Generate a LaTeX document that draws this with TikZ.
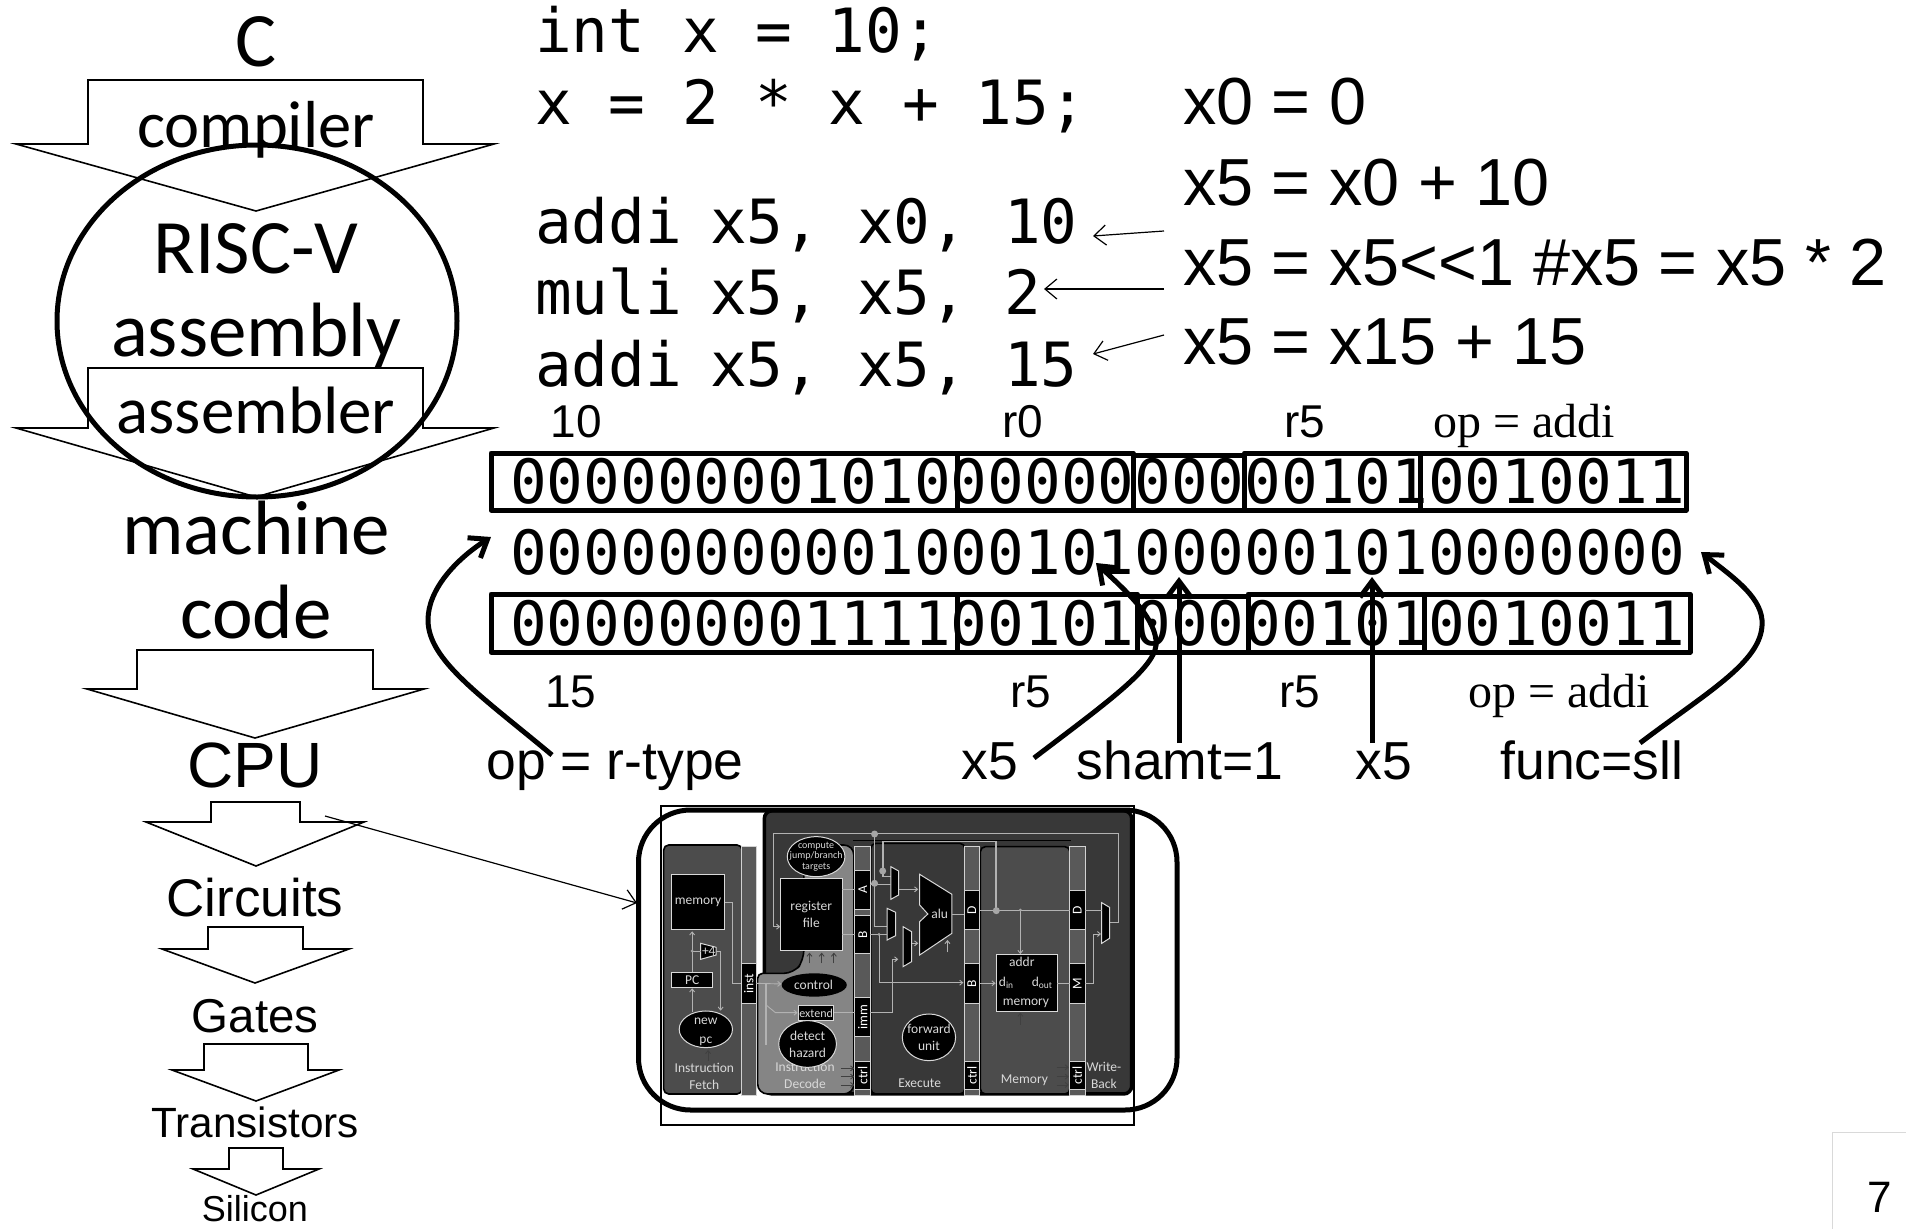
\documentclass[tikz,border=0pt]{standalone}
\usepackage{fontspec}
\setmainfont{Carlito}
\setsansfont{Liberation Sans}
\newfontfamily\codefont{DejaVu Sans Mono}
\newfontfamily\timesfont{Liberation Serif}
\usetikzlibrary{arrows.meta}

\begin{document}
\begin{tikzpicture}[
        x=1pt,
        y=-1pt,
        calibri/.style={
            anchor=base,
            inner sep=0pt,
            font=\fontsize{#1}{#1}\selectfont
        },
        arial/.style={
            anchor=base,
            inner sep=0pt,
            font=\sffamily\fontsize{#1}{#1}\selectfont
        },
        serif/.style={
            anchor=base,
            inner sep=0pt,
            font=\timesfont\fontsize{#1}{#1}\selectfont
        },
        code/.style={
            anchor=base west,
            inner sep=0pt,
            font=\codefont\fontsize{61}{61}\selectfont
        },
        block/.style={
            draw=black,
            line width=1.6pt,
            line join=miter,
            miter limit=20
        },
        field/.style={
            draw=black,
            line width=5pt,
            line join=round
        },
        thinarrow/.style={
            draw=black,
            line width=1.2pt,
            -{Straight Barb[length=12pt,width=20pt]}
        },
        fatarrow/.style={
            draw=black,
            line width=5pt,
            -{Straight Barb[length=16pt,width=24pt]}
        },
        outline/.style={
            draw=black,
            line width=5pt
        },
        stage/.style={
            draw=black,
            line width=1.6pt,
            rounded corners=5pt
        },
        latch/.style={
            draw=gray!35,
            line width=1pt,
            fill=black!65
        },
        slot/.style={
            draw=gray!35,
            line width=1pt,
            fill=black,
            text=white!85!black,
            inner sep=0pt,
            font=\fontsize{12}{12}\selectfont
        },
        unit/.style={
            draw=white!85!black,
            line width=1pt,
            fill=black,
            text=white!85!black,
            inner sep=0pt,
            align=center,
            font=\fontsize{12}{15}\selectfont
        },
        tag/.style={
            text=white!85!black,
            inner sep=0pt,
            align=center,
            font=\fontsize{13.5}{17}\selectfont
        },
        wire/.style={
            draw=white!70!black,
            line width=0.9pt
        },
        feed/.style={
            draw=white!70!black,
            line width=1.6pt
        },
        wirearrow/.style={
            wire,
            -{Straight Barb[length=3pt,width=5pt]}
        },
        ctlarrow/.style={
            draw=black!75,
            line width=0.9pt,
            -{Straight Barb[length=3pt,width=5pt]}
        },
        dot/.style={
            circle,
            fill=white!65!black,
            inner sep=0pt
        }
    ]

    \useasboundingbox (0,0) rectangle (1906,1229);

    % Levels, left column
    \node[calibri=77] (lvlc) at (256,66) {C};
    \node[calibri=66.5] (lvlcomp) at (256,147) {compiler};
    \node[calibri=77] (lvlrisc) at (256,273) {RISC-V};
    \node[calibri=77] (lvlasm) at (256,356) {assembly};
    \node[calibri=67] (lvlassem) at (256,433) {assembler};
    \node[calibri=77] (lvlmach) at (256,554) {machine};
    \node[calibri=77] (lvlcode) at (256,638) {code};
    \node[arial=64] (lvlcpu) at (255,787) {CPU};
    \node[arial=53] (lvlcirc) at (255,916) {Circuits};
    \node[arial=47.5] (lvlgate) at (255,1032) {Gates};
    \node[arial=42.3] (lvltran) at (255,1137) {Transistors};
    \node[arial=36] (lvlsili) at (255,1221) {Silicon};

    % Block arrows between the levels
    \draw[block] (88,80) -- (423,80) -- (423,144) -- (494,144) -- (256,211) -- (16,144) -- (88,144) -- cycle;
    \draw[block] (88,368) -- (423,368) -- (423,428) -- (494,428) -- (256,497) -- (16,428) -- (88,428) -- cycle;
    \draw[block] (137,650) -- (373,650) -- (373,689) -- (424,689) -- (255,738) -- (87,689) -- (137,689) -- cycle;
    \draw[block] (211,802) -- (300,802) -- (300,822) -- (364,822) -- (256,866) -- (146,822) -- (211,822) -- cycle;
    \draw[block] (208,927) -- (303,927) -- (303,949) -- (349,949) -- (255,983) -- (162,949) -- (208,949) -- cycle;
    \draw[block] (204,1044) -- (308,1044) -- (308,1070) -- (339,1070) -- (256,1101) -- (172,1070) -- (204,1070) -- cycle;
    \draw[block] (229,1148) -- (283,1148) -- (283,1169) -- (319,1169) -- (256,1195) -- (193,1169) -- (229,1169) -- cycle;

    % Circle round the assembly level
    \draw[outline] (257,321) ellipse (200 and 176);

    % C source and assembly
    \node[code] (srca) at (535,52) {int x = 10;};
    \node[code] (srcb) at (535,124) {x = 2 * x + 15;};
    \node[code] (asma) at (535,243) {addi\hspace{-8.5pt} x5, x0, 10};
    \node[code] (asmb) at (535,314) {muli\hspace{-8.5pt} x5, x5, 2};
    \node[code] (asmc) at (535,386) {addi\hspace{-8.5pt} x5, x5, 15};

    % Pseudocode on the right
    \node[arial=66.6,anchor=base west] (psa) at (1183,124) {x0 = 0};
    \node[arial=66.6,anchor=base west] (psb) at (1183,205) {x5 = x0 + 10};
    \node[arial=66.6,anchor=base west] (psc) at (1183,285) {x5 = x5{<}{<}1 \#x5 = x5 * 2};
    \node[arial=66.6,anchor=base west] (psd) at (1183,364) {x5 = x15 + 15};

    \coordinate (tailA) at (1164,231);
    \coordinate (headA) at (1093,236);
    \coordinate (tailB) at (1164,289);
    \coordinate (headB) at (1044,289);
    \coordinate (tailC) at (1164,335);
    \coordinate (headC) at (1093,354);
    \draw[thinarrow] (tailA) -- (headA);
    \draw[thinarrow] (tailB) -- (headB);
    \draw[thinarrow] (tailC) -- (headC);

    % Field names, first word
    \node[arial=46] (fimm) at (576,437) {10};
    \node[arial=46] (frs) at (1023,437) {r0};
    \node[arial=46] (frd) at (1305,437) {r5};
    \node[serif=48] (fop) at (1524,437) {op = addi};

    % Encoded words
    \draw[field] (491,453) rectangle (957,510);
    \draw[field] (957,453) rectangle (1133,510);
    \draw[field] (1133,455) rectangle (1244.5,510);
    \draw[field] (1244.5,453) rectangle (1420,510);
    \draw[field] (1420,453) rectangle (1686,510);
    \node[code] (wordA) at (510,503) {00000000101000000000001010010011};
    \node[code] (wordB) at (510,574) {00000000001000101000001010000000};
    \node[code] (wordC) at (510,645) {00000000111100101000001010010011};
    \draw[field] (491,594) rectangle (957,652);
    \draw[field] (957,594) rectangle (1137,652);
    \draw[field] (1137,596) rectangle (1248,652);
    \draw[field] (1248,594) rectangle (1424,652);
    \draw[field] (1424,594) rectangle (1690,652);

    % Field names, second word
    \node[arial=46] (gimm) at (571,707) {15};
    \node[arial=46] (grs) at (1031,707) {r5};
    \node[arial=46] (grd) at (1300,707) {r5};
    \node[serif=48] (gop) at (1559,707) {op = addi};

    % Fields of the sll word
    \node[arial=53.5] (hop) at (615,779) {op = r-type};
    \node[arial=53.5] (hrs) at (990,779) {x5};
    \node[arial=53.5] (hsh) at (1180,779) {shamt=1};
    \node[arial=53.5] (hrd) at (1384,779) {x5};
    \node[arial=53.5] (hfn) at (1592,779) {func=sll};

    \coordinate (opfoot) at (552,755);
    \coordinate (ophead) at (491,537);
    \coordinate (rsfoot) at (1034,758);
    \coordinate (rshead) at (1096,563);
    \coordinate (shfoot) at (1179,743);
    \coordinate (shhead) at (1179,577);
    \coordinate (rdfoot) at (1372,743);
    \coordinate (rdhead) at (1372,577);
    \coordinate (fnfoot) at (1640,743);
    \coordinate (fnhead) at (1701,552);
    \draw[fatarrow] (opfoot) .. controls (480,695) and (428,660) .. (428,620) .. controls (428,590) and (455,560) .. (ophead);
    \draw[fatarrow] (rsfoot) .. controls (1110,700) and (1160,665) .. (1156,640) .. controls (1153,615) and (1125,590) .. (rshead);
    \draw[fatarrow] (shfoot) -- (shhead);
    \draw[fatarrow] (rdfoot) -- (rdhead);
    \draw[fatarrow] (fnfoot) .. controls (1710,690) and (1765,660) .. (1762,620) .. controls (1760,595) and (1730,575) .. (fnhead);

    % Pipeline picture
    \begin{scope}[shift={(620,790)},x=0.37pt,y=-0.3333pt]

    % Stages
    \filldraw[draw=black,line width=3.5pt,fill=black!78,rounded corners=8pt] (390,62) rectangle (1383,912);
    \filldraw[stage,fill=black!70] (118,165) rectangle (330,912);
    \filldraw[stage,fill=black!48] (372,912) -- (372,550) [rounded corners=10pt] -- (470,550) -- (497,510) -- (497,165) -- (632,165) -- (632,912) -- cycle;
    \filldraw[stage,fill=black!78] (678,160) rectangle (932,912);
    \filldraw[stage,fill=black!70] (974,170) rectangle (1216,912);
    \draw[black,line width=1.6pt] (630,152) -- (1220,152);

    % Feedback wires
    \draw[wire] (415,130) -- (1347,130) -- (1347,398) -- (1325,398);
    \draw[wirearrow] (415,130) -- (415,410) -- (433,410);
    \draw[feed] (688,132) -- (688,410) -- (722,410);
    \draw[feed] (1017,362) -- (1017,155) -- (710,155) -- (710,260) -- (732,260);

    % Latches
    \draw[latch] (328,168) rectangle (368,918);
    \draw[latch] (635,168) rectangle (677,918);
    \draw[latch] (930,168) rectangle (972,918);
    \draw[latch] (1215,168) rectangle (1257,918);

    \draw[slot] (328,522) rectangle (368,640);
    \node[tag,rotate=90,text=white] (rinst) at (348,581) {inst};
    \draw[slot] (635,240) rectangle (677,358);
    \node[tag,rotate=90,text=white] (ra) at (656,299) {A};
    \draw[slot] (635,375) rectangle (677,492);
    \node[tag,rotate=90,text=white] (rb) at (656,433) {B};
    \draw[slot] (635,622) rectangle (677,740);
    \node[tag,rotate=90,text=white] (rimm) at (656,681) {imm};
    \draw[slot] (635,815) rectangle (677,900);
    \node[tag,rotate=90,text=white] (rcta) at (656,857) {ctrl};
    \draw[slot] (930,300) rectangle (972,420);
    \node[tag,rotate=90,text=white] (rd) at (951,360) {D};
    \draw[slot] (930,522) rectangle (972,640);
    \node[tag,rotate=90,text=white] (rbb) at (951,581) {B};
    \draw[slot] (930,815) rectangle (972,900);
    \node[tag,rotate=90,text=white] (rctb) at (951,857) {ctrl};
    \draw[slot] (1215,300) rectangle (1257,420);
    \node[tag,rotate=90,text=white] (rdd) at (1236,360) {D};
    \draw[slot] (1215,522) rectangle (1257,640);
    \node[tag,rotate=90,text=white] (rm) at (1236,581) {M};
    \draw[slot] (1215,815) rectangle (1257,900);
    \node[tag,rotate=90,text=white] (rctc) at (1236,857) {ctrl};

    % Stage names
    \node[tag] (sif) at (228,858) {Instruction\\Fetch};
    \node[tag] (sid) at (500,855) {Instruction\\Decode};
    \node[tag] (sex) at (810,880) {Execute};
    \node[tag] (smem) at (1093,870) {Memory};
    \node[tag] (swb) at (1308,855) {Write-\\Back};

    % Units
    \draw[unit] (140,252) rectangle (283,420);
    \node[tag] (imem) at (211,338) {memory};
    \draw[unit] (140,547) rectangle (250,593);
    \node[tag] (pc) at (195,570) {PC};
    \draw[unit] (218,460) -- (260,472) -- (260,495) -- (218,508) -- cycle;
    \node[tag] (plus) at (240,484) {+4};
    \draw[unit] (232,718) ellipse (72 and 55);
    \node[tag] (newpc) at (232,724) {new\\[2pt]pc};
    \draw[unit] (435,265) rectangle (600,482);
    \node[tag] (regs) at (517,373) {register\\file};
    \draw[unit] (530,200) ellipse (78 and 60);
    \node[tag,font=\fontsize{10}{10.5}\selectfont] (jump) at (530,200) {compute\\jump/branch\\targets};
    \fill[black] (525,585) ellipse (88 and 35);
    \node[tag] (ctl) at (523,585) {control};
    \draw[unit] (482,647) rectangle (578,692);
    \node[tag,font=\fontsize{12}{12}\selectfont] (ext) at (530,670) {extend};
    \draw[unit] (507,762) ellipse (78 and 70);
    \node[tag] (haz) at (507,762) {detect\\hazard};
    \draw[unit] (835,742) ellipse (72 and 70);
    \node[tag] (fwd) at (835,742) {forward\\unit};
    \draw[unit] (1017,495) rectangle (1182,665);
    \node[tag] (addr) at (1086,516) {addr};
    \node[tag] (din) at (1044,578) {d\textsubscript{in}};
    \node[tag] (dout) at (1141,578) {d\textsubscript{out}};
    \node[tag] (dmem) at (1097,640) {memory};

    % Multiplexers and ALU
    \draw[unit] (810,253) -- (897,313) -- (897,430) -- (810,495) -- (810,395) -- (832,372) -- (810,345) -- cycle;
    \node[tag] (alu) at (864,372) {alu};
    \draw[unit] (732,230) -- (753,243) -- (753,315) -- (732,328) -- cycle;
    \draw[unit] (722,355) -- (745,367) -- (745,437) -- (722,450) -- cycle;
    \draw[unit] (765,410) -- (788,425) -- (788,515) -- (765,530) -- cycle;
    \draw[unit] (1302,338) -- (1323,352) -- (1323,445) -- (1302,460) -- cycle;

    % Wires
    \draw[wire] (283,337) -- (305,337) -- (305,580) -- (328,580);
    \draw[wire,line width=1.4pt] (368,580) -- (395,580) -- (395,765);
    \draw[wirearrow] (368,580) -- (436,582);
    \draw[wirearrow] (395,645) -- (420,668) -- (480,668);
    \draw[wirearrow] (195,665) -- (195,595);
    \draw[wirearrow] (195,547) -- (195,424);
    \draw[wire] (195,483) -- (218,483);
    \draw[wirearrow] (260,483) -- (272,483) -- (272,662);
    \draw[wire] (600,298) -- (635,298);
    \draw[wire] (677,282) -- (732,282);
    \draw[wirearrow] (753,298) -- (806,298);
    \draw[wire] (600,433) -- (635,433);
    \draw[wire] (677,433) -- (722,433);
    \draw[wirearrow] (700,433) -- (700,578) -- (928,578);
    \draw[wirearrow] (788,460) -- (806,460);
    \draw[wire] (578,668) -- (635,668);
    \draw[wirearrow] (677,668) -- (735,668) -- (735,508) -- (752,508);
    \draw[wire] (897,372) -- (930,372);
    \draw[wire,line width=1.4pt] (972,362) -- (1215,362);
    \draw[wirearrow] (1082,362) -- (1082,492);
    \draw[wirearrow] (972,580) -- (1015,580);
    \draw[wire] (1182,580) -- (1215,580);
    \draw[wirearrow] (1257,580) -- (1280,580) -- (1280,432) -- (1300,432);
    \draw[wire] (1257,362) -- (1302,362);
    \draw[wirearrow] (885,487) -- (885,450);

    \node[dot,minimum size=7pt] (dota) at (688,132) {};
    \node[dot,minimum size=7pt] (dotb) at (710,243) {};
    \node[dot,minimum size=7pt] (dotc) at (688,280) {};
    \node[dot,minimum size=7pt] (dotd) at (1017,362) {};
    \node[dot,minimum size=3pt] (dote) at (1082,360) {};
    \node[dot,minimum size=3pt] (dotf) at (700,433) {};
    \node[dot,minimum size=3pt] (dotg) at (195,483) {};

    % Control inputs
    \draw[ctlarrow] (512,520) -- (512,488);
    \draw[ctlarrow] (545,520) -- (545,488);
    \draw[ctlarrow] (578,520) -- (578,488);
    \draw[ctlarrow] (238,812) -- (238,780);
    \draw[ctlarrow] (1082,705) -- (1082,668);
    \draw[ctlarrow] (597,835) -- (633,835);
    \draw[ctlarrow] (597,860) -- (633,860);
    \draw[ctlarrow] (597,885) -- (633,885);
    \draw[ctlarrow] (1180,832) -- (1213,832);
    \draw[ctlarrow] (1180,860) -- (1213,860);
    \draw[ctlarrow] (1180,885) -- (1213,885);
    \end{scope}

    % Frame and rounded outline of the picture
    \draw[black,line width=2pt] (661,806) rectangle (1134,1125);
    \draw[outline,rounded corners=52pt] (638.5,810) rectangle (1177,1110);

    % Link from the CPU level to the picture
    \coordinate (cpulink) at (325,816);
    \coordinate (piclink) at (637,903);
    \draw[thinarrow] (cpulink) -- (piclink);

    % Slide number
    \draw[black!15,line width=1pt] (1906,1132) -- (1832,1132) -- (1832,1229);
    \node[arial=44] (pageno) at (1880,1212) {7};

    \end{tikzpicture}
\end{document}
